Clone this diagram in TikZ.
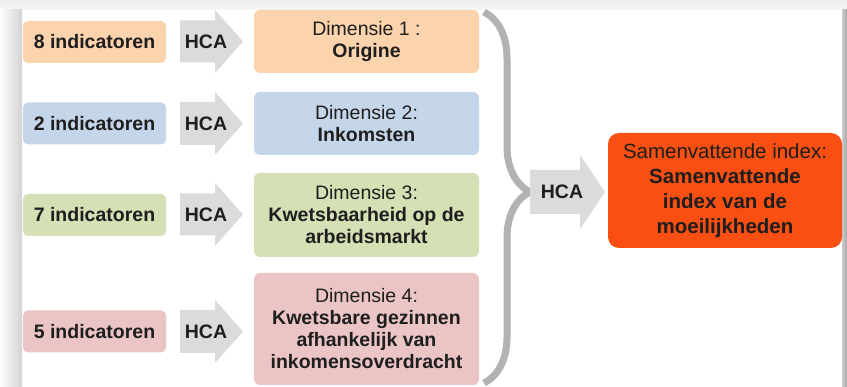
\documentclass[tikz,border=0pt]{standalone}
\usepackage{fontspec}
\setmainfont{Liberation Sans}
\usetikzlibrary{decorations.pathreplacing}
\definecolor{peach}{HTML}{FBD4AD}
\definecolor{lightblue}{HTML}{C6D6EA}
\definecolor{olive}{HTML}{D5E0B5}
\definecolor{rose}{HTML}{EBC5C6}
\definecolor{signal}{HTML}{FA4F12}
\definecolor{arrowgray}{HTML}{DBDBDB}
\definecolor{bracegray}{HTML}{B2B2B2}
\definecolor{ink}{HTML}{1E1E1E}
\tikzset{
  indbox/.style={rounded corners=5pt, minimum width=143pt, minimum height=42pt,
    inner sep=0pt, text=ink, font=\fontsize{19.5}{22}\selectfont\bfseries},
  dimbox/.style={rounded corners=6pt, minimum width=225pt, inner sep=0pt,
    align=center, text=ink, font=\fontsize{19.5}{22}\selectfont},
  hca/.style={inner sep=0pt, text=ink, font=\fontsize{19.5}{22}\selectfont\bfseries}
}
\begin{document}
\begin{tikzpicture}[x=1pt,y=-1pt]
                \useasboundingbox (0,0) rectangle (847,387);
                \fill[white] (0,0) rectangle (847,387);
                \shade[top color=gray!14, bottom color=gray!6] (0,0) rectangle (847,10);
                \shade[left color=white, right color=gray!35] (0,10) rectangle (22,387);
                \shade[left color=gray!40, right color=gray!70] (842,10) rectangle (847,387);
                \node[indbox, fill=peach] (i1) at (94.5,42) {8 indicatoren};
                \node[indbox, fill=lightblue] (i2) at (94.5,123.5) {2 indicatoren};
                \node[indbox, fill=olive] (i3) at (94.5,215) {7 indicatoren};
                \node[indbox, fill=rose] (i4) at (94.5,331.5) {5 indicatoren};
                \fill[arrowgray] (180,20.5) -- (215,20.5) -- (215,10) -- (243,41.5) -- (215,73) -- (215,62.5) -- (180,62.5) -- cycle;
                \fill[arrowgray] (180,102) -- (215,102) -- (215,92) -- (243,123.5) -- (215,155) -- (215,145) -- (180,145) -- cycle;
                \fill[arrowgray] (180,193.5) -- (215,193.5) -- (215,183) -- (243,214.5) -- (215,246) -- (215,235.5) -- (180,235.5) -- cycle;
                \fill[arrowgray] (180,310) -- (215,310) -- (215,300) -- (243,331.5) -- (215,363) -- (215,353) -- (180,353) -- cycle;
                \node[hca] (h1) at (206,42) {HCA};
                \node[hca] (h2) at (206,123.5) {HCA};
                \node[hca] (h3) at (206,215) {HCA};
                \node[hca] (h4) at (206,331.5) {HCA};
                \node[dimbox, fill=peach, minimum height=63pt] (d1) at (366.5,41.5) {Dimensie 1 :\\\textbf{Origine}};
                \node[dimbox, fill=lightblue, minimum height=63pt] (d2) at (366.5,123.5) {Dimensie 2:\\\textbf{Inkomsten}};
                \node[dimbox, fill=olive, minimum height=84pt] (d3) at (366.5,215) {Dimensie 3:\\\textbf{Kwetsbaarheid op de}\\\textbf{arbeidsmarkt}};
                \node[dimbox, fill=rose, minimum height=112pt] (d4) at (366.5,329) {Dimensie 4:\\\textbf{Kwetsbare gezinnen}\\\textbf{afhankelijk van}\\\textbf{inkomensoverdracht}};
                \draw[bracegray, line width=7pt, decorate, decoration={brace, amplitude=46pt, aspect=0.485}] (484,12) -- (484,383);
                \fill[arrowgray] (530,170) -- (580,170) -- (580,155) -- (605,192) -- (580,229) -- (580,214) -- (530,214) -- cycle;
                \node[hca] (h5) at (562,192) {HCA};
                \node[rounded corners=11pt, fill=signal, minimum width=234pt, minimum height=115pt,
                  inner sep=0pt, align=center, text=ink, font=\fontsize{20.5}{25}\selectfont] (sum) at (725,190.5)
                  {Samenvattende index:\\\textbf{Samenvattende}\\\textbf{index van de}\\\textbf{moeilijkheden}};
\end{tikzpicture}
\end{document}
